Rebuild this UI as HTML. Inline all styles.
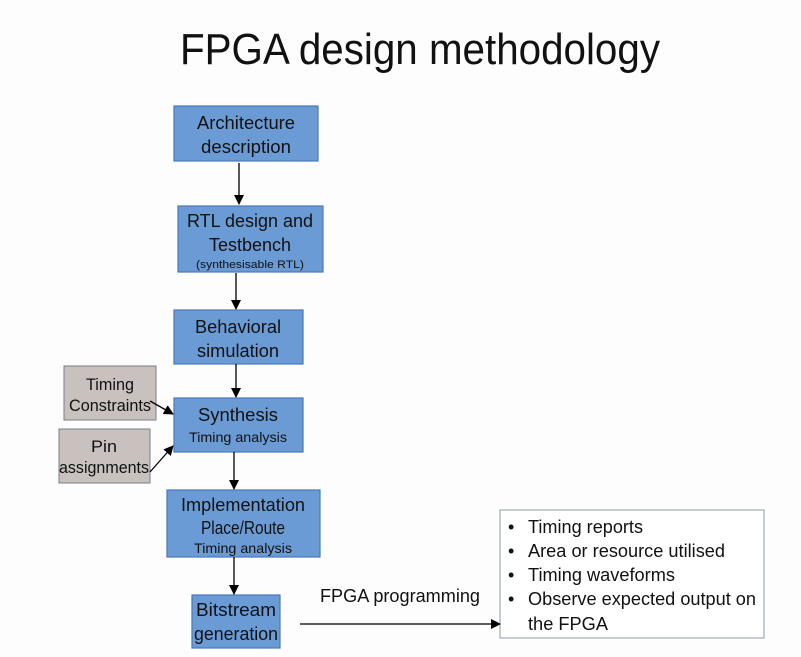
<!DOCTYPE html>
<html><head><meta charset="utf-8"><style>
html,body{margin:0;padding:0;background:#fdfdfd;}
svg{display:block}
text{font-family:"Liberation Sans",sans-serif;fill:#111;}
</style></head><body>
<svg width="801" height="657" viewBox="0 0 801 657" xmlns="http://www.w3.org/2000/svg">
<defs><marker id="a" markerWidth="10" markerHeight="10" refX="9" refY="5" orient="auto" markerUnits="userSpaceOnUse"><path d="M0,0 L10,5 L0,10 z" fill="#000"/></marker></defs>
<text x="180" y="64" font-size="44" textLength="480" lengthAdjust="spacingAndGlyphs">FPGA design methodology</text>
<g fill="#6b9bd5" stroke="#4a78b8" stroke-width="1.2">
<rect x="174" y="106" width="144" height="55"/>
<rect x="178" y="206" width="145" height="66"/>
<rect x="174" y="310" width="129" height="54"/>
<rect x="174" y="398" width="129" height="54"/>
<rect x="167" y="490" width="153" height="67"/>
<rect x="192" y="595" width="88" height="53"/>
</g>
<g fill="#c9c1be" stroke="#7a7a8a" stroke-width="1">
<rect x="64" y="366" width="92" height="54"/>
<rect x="59" y="429" width="91" height="54"/>
</g>
<rect x="500" y="510" width="264" height="128" fill="#fff" stroke="#8a9ab0" stroke-width="1"/>
<g stroke="#000" stroke-width="1.3" fill="none">
<line x1="239" y1="163" x2="239" y2="204" marker-end="url(#a)"/>
<line x1="236" y1="273" x2="236" y2="309" marker-end="url(#a)"/>
<line x1="236" y1="364" x2="236" y2="397" marker-end="url(#a)"/>
<line x1="234" y1="452" x2="234" y2="489" marker-end="url(#a)"/>
<line x1="234" y1="557" x2="234" y2="594" marker-end="url(#a)"/>
<line x1="150" y1="401" x2="173" y2="414" marker-end="url(#a)"/>
<line x1="150" y1="472" x2="173" y2="446" marker-end="url(#a)"/>
<line x1="300" y1="624" x2="500" y2="624" marker-end="url(#a)"/>
</g>
<g font-size="18" text-anchor="middle" lengthAdjust="spacingAndGlyphs">
<text x="246" y="129" textLength="98" lengthAdjust="spacingAndGlyphs">Architecture</text>
<text x="246" y="153" textLength="90" lengthAdjust="spacingAndGlyphs">description</text>
<text x="250" y="227" textLength="126" lengthAdjust="spacingAndGlyphs">RTL design and</text>
<text x="250" y="251" textLength="82" lengthAdjust="spacingAndGlyphs">Testbench</text>
<text x="250" y="268" font-size="11" textLength="108" lengthAdjust="spacingAndGlyphs">(synthesisable RTL)</text>
<text x="238" y="333" textLength="86" lengthAdjust="spacingAndGlyphs">Behavioral</text>
<text x="238" y="357" textLength="82" lengthAdjust="spacingAndGlyphs">simulation</text>
<text x="238" y="421" textLength="80" lengthAdjust="spacingAndGlyphs">Synthesis</text>
<text x="238" y="442" font-size="14" textLength="98" lengthAdjust="spacingAndGlyphs">Timing analysis</text>
<text x="243" y="511" textLength="124" lengthAdjust="spacingAndGlyphs">Implementation</text>
<text x="243" y="534" textLength="84" lengthAdjust="spacingAndGlyphs">Place/Route</text>
<text x="243" y="553" font-size="14" textLength="98" lengthAdjust="spacingAndGlyphs">Timing analysis</text>
<text x="236" y="616" textLength="80" lengthAdjust="spacingAndGlyphs">Bitstream</text>
<text x="236" y="640" textLength="84" lengthAdjust="spacingAndGlyphs">generation</text>
<text x="110" y="390" font-size="17" textLength="48" lengthAdjust="spacingAndGlyphs">Timing</text>
<text x="110" y="411" font-size="17" textLength="82" lengthAdjust="spacingAndGlyphs">Constraints</text>
<text x="104" y="452" font-size="17" textLength="26" lengthAdjust="spacingAndGlyphs">Pin</text>
<text x="104" y="473" font-size="17" textLength="90" lengthAdjust="spacingAndGlyphs">assignments</text>
</g>
<text x="320" y="602" font-size="18" textLength="160" lengthAdjust="spacingAndGlyphs">FPGA programming</text>
<g font-size="18">
<text x="508" y="533">•</text><text x="528" y="533" textLength="115" lengthAdjust="spacingAndGlyphs">Timing reports</text>
<text x="508" y="557">•</text><text x="528" y="557" textLength="197" lengthAdjust="spacingAndGlyphs">Area or resource utilised</text>
<text x="508" y="581">•</text><text x="528" y="581" textLength="147" lengthAdjust="spacingAndGlyphs">Timing waveforms</text>
<text x="508" y="605">•</text><text x="528" y="605" textLength="228" lengthAdjust="spacingAndGlyphs">Observe expected output on</text>
<text x="528" y="630" textLength="80" lengthAdjust="spacingAndGlyphs">the FPGA</text>
</g>
</svg>
</body></html>
